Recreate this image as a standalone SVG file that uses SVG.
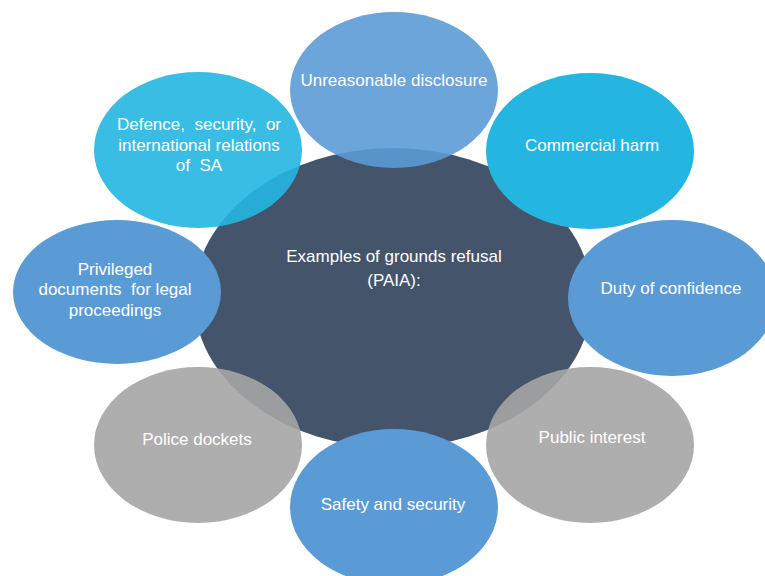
<svg xmlns="http://www.w3.org/2000/svg" width="765" height="576" viewBox="0 0 765 576">
<style>
.t{font-family:"Liberation Sans",Arial,sans-serif;font-size:17px;fill:#ffffff;text-anchor:middle;white-space:pre}
.blue{fill:#5B9BD5}
.cyan{fill:#24B6E1}
.gray{fill:#A5A5A5}
.dark{fill:#44546A}
.tr{opacity:0.9}
</style>
<rect width="765" height="576" fill="#ffffff"/>
<g id="connectors"></g>
<g id="center">
<ellipse class="dark" cx="393" cy="298" rx="199" ry="150"/>
<text class="t" x="394" y="262">Examples of grounds refusal</text>
<text class="t" x="394" y="286">(PAIA):</text>
</g>
<g id="n-unreasonable">
<ellipse class="blue tr" cx="394" cy="90" rx="104" ry="78"/>
<text class="t" x="394" y="86">Unreasonable disclosure</text>
</g>
<g id="n-commercial">
<ellipse class="cyan" cx="590" cy="151" rx="104" ry="78"/>
<text class="t" x="592" y="151">Commercial harm</text>
</g>
<g id="n-duty">
<ellipse class="blue" cx="672" cy="298" rx="104" ry="78"/>
<text class="t" x="671" y="294">Duty of confidence</text>
</g>
<g id="n-public">
<ellipse class="gray tr" cx="590" cy="445" rx="104" ry="78"/>
<text class="t" x="592" y="443">Public interest</text>
</g>
<g id="n-safety">
<ellipse class="blue" cx="394" cy="507" rx="104" ry="78"/>
<text class="t" x="393" y="510">Safety and security</text>
</g>
<g id="n-police">
<ellipse class="gray tr" cx="198" cy="445" rx="104" ry="78"/>
<text class="t" x="197" y="445">Police dockets</text>
</g>
<g id="n-privileged">
<ellipse class="blue" cx="117" cy="292" rx="104" ry="72"/>
<text class="t" x="115" y="275">Privileged</text>
<text class="t" x="115" y="295">documents  for legal</text>
<text class="t" x="115" y="316">proceedings</text>
</g>
<g id="n-defence">
<ellipse class="cyan tr" cx="198" cy="150" rx="104" ry="78"/>
<text class="t" x="199" y="130">Defence,  security,  or</text>
<text class="t" x="199" y="151">international relations</text>
<text class="t" x="199" y="171">of  SA</text>
</g>
</svg>
